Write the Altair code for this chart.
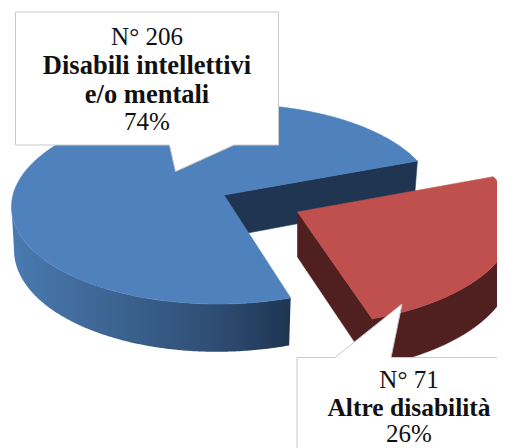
import numpy as np
import pandas as pd
import altair as alt

# --- chart values
categories = ["Disabili intellettivi e/o mentali", "Altre disabilità"]
counts = [206, 71]
percent_labels = ["74%", "26%"]
count_labels = ["N° 206", "N° 71"]

START_DEG = 20.7          # where the first slice starts
FONT = "Liberation Serif"
FS = 25
FS_B = 26.5
FS_B2 = 25.5
PLOT_W = 489
PLOT_H = 440


def disc(theta, tip, a, b, k=-0.09, s=0.0):
    """Perspective projection of a unit disc's rim onto the picture plane."""
    t = np.radians(theta)
    u, v = np.cos(t), -np.sin(t)
    d = 1 + k * v
    return tip[0] + (a * u + s * v) / d, tip[1] + b * v / d


def df_of(xs, ys):
    return pd.DataFrame({"x": xs, "y": ys, "i": np.arange(len(xs))})


X = alt.X("x:Q", scale=alt.Scale(domain=[8, 8 + PLOT_W], nice=False, zero=False), axis=None)
Y = alt.Y("y:Q", scale=alt.Scale(domain=[8 + PLOT_H, 8], nice=False, zero=False), axis=None)


def poly(xs, ys, fill, stroke=None, sw=0.6):
    xs = list(xs) + [xs[0]]
    ys = list(ys) + [ys[0]]
    return (
        alt.Chart(df_of(xs, ys))
        .mark_line(fill=fill, stroke=stroke if stroke else (fill if isinstance(fill, str) else "#2f5075"),
                   strokeWidth=sw if (stroke or isinstance(fill, str)) else 0, clip=True, interpolate="linear")
        .encode(x=X, y=Y, order=alt.Order("i:Q"))
    )


sweep = 360.0 * counts[0] / sum(counts)
a0, a1 = START_DEG, START_DEG + sweep

# disc geometry: blue slice
B_TOP = dict(tip=(224, 195), a=211, b=99.2, s=-6)
B_BOT = dict(tip=(223.5, 237.5), a=208, b=104, s=-6)
# red slice (pulled out)
R_TOP = dict(tip=(297.5, 212), a=216, b=103)
R_BOT = dict(tip=(297.5, 257), a=214, b=106)

layers = []

# blue cut face at the start angle
tx, ty = disc(np.array([a0]), **B_TOP)
bx, by = disc(np.array([a0]), **B_BOT)
layers.append(poly([B_TOP["tip"][0], tx[0], bx[0], B_BOT["tip"][0]],
                   [B_TOP["tip"][1], ty[0], by[0], B_BOT["tip"][1]], "#1F3552"))

# blue outer wall with gradient
th = np.linspace(187, a1, 160)
tx, ty = disc(th, **B_TOP)
bx, by = disc(th, **B_BOT)
wall_grad = alt.Gradient(gradient="linear", x1=0, y1=0, x2=1, y2=0,
                         stops=[alt.GradientStop(color="#4A7AB1", offset=0),
                                alt.GradientStop(color="#3F6897", offset=0.3),
                                alt.GradientStop(color="#2F4F76", offset=0.7),
                                alt.GradientStop(color="#1F3552", offset=1)])
layers.append(poly(list(tx) + list(bx[::-1]), list(ty) + list(by[::-1]), wall_grad))

# blue top
th = np.linspace(a0, a1, 300)
tx, ty = disc(th, **B_TOP)
layers.append(poly([B_TOP["tip"][0]] + list(tx), [B_TOP["tip"][1]] + list(ty), "#4F81BD"))

# red cut face at the end angle
tx, ty = disc(np.array([a1]), **R_TOP)
bx, by = disc(np.array([a1]), **R_BOT)
layers.append(poly([R_TOP["tip"][0], tx[0], bx[0], R_BOT["tip"][0]],
                   [R_TOP["tip"][1], ty[0], by[0], R_BOT["tip"][1]], "#4F201F"))

# red outer wall
th = np.linspace(a1, 360 + 10, 120)
tx, ty = disc(th, **R_TOP)
bx, by = disc(th, **R_BOT)
layers.append(poly(list(tx) + list(bx[::-1]), list(ty) + list(by[::-1]), "#4F201F"))

# red top
th = np.linspace(a1, 360 + a0, 160)
tx, ty = disc(th, **R_TOP)
layers.append(poly([R_TOP["tip"][0]] + list(tx), [R_TOP["tip"][1]] + list(ty), "#C0504D"))

# callouts
BORDER = "#C9C9C9"
layers.append(poly([15.5, 278.5, 278.5, 234, 175.5, 169.5, 15.5],
                   [12, 12, 145, 145, 171.5, 145, 145], "#FFFFFF", BORDER, 1))
layers.append(poly([297, 335, 402, 391, 520, 520, 297],
                   [357.5, 357.5, 304, 357.5, 357.5, 470, 470], "#FFFFFF", BORDER, 1))

# labels
plain = pd.DataFrame({
    "x": [147, 147, 409, 409],
    "y": [37, 122, 380, 434],
    "t": [count_labels[0], percent_labels[0], count_labels[1], percent_labels[1]],
})
bold = pd.DataFrame({
    "x": [147, 147],
    "y": [66, 95],
    "t": ["Disabili intellettivi", "e/o mentali"],
})
bold2 = pd.DataFrame({"x": [409], "y": [408], "t": [categories[1]]})
layers.append(alt.Chart(plain).mark_text(font=FONT, fontSize=FS, color="#111111", align="center", baseline="middle")
              .encode(x=X, y=Y, text="t:N"))
layers.append(alt.Chart(bold).mark_text(font=FONT, fontSize=FS_B, fontWeight="bold", color="#111111", align="center", baseline="middle")
              .encode(x=X, y=Y, text="t:N"))
layers.append(alt.Chart(bold2).mark_text(font=FONT, fontSize=FS_B2, fontWeight="bold", color="#111111", align="center", baseline="middle")
              .encode(x=X, y=Y, text="t:N"))

chart = (
    alt.layer(*layers)
    .properties(width=PLOT_W, height=PLOT_H, padding=0, autosize=alt.AutoSizeParams(type="none"), background="white")
    .configure_view(stroke=None)
)
chart.save("out.html", embed_options={"renderer": "svg", "actions": False})
